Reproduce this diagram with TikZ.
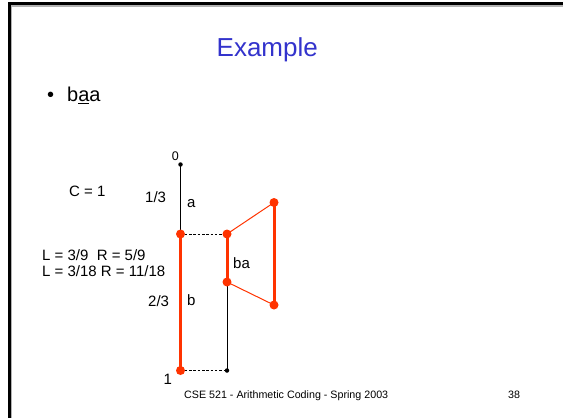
\documentclass[tikz,border=0pt]{standalone}
\usepackage{fontspec}
\setmainfont{Liberation Sans}
\definecolor{titleblue}{HTML}{3333CC}
\definecolor{ored}{HTML}{FF3300}
\begin{document}
\begin{tikzpicture}[x=1pt,y=-1pt,
  lbl/.style={inner sep=0pt,anchor=base west,font=\fontsize{15}{18}\selectfont},
  thickred/.style={ored,line width=3pt},
  thinred/.style={ored,line width=1pt},
  blk/.style={black,line width=0.9pt},
  dashblk/.style={black,line width=0.8pt,dash pattern=on 2.5pt off 1.8pt},
  rdot/.style={circle,fill=ored,inner sep=0pt,minimum size=9pt},
  bdot/.style={circle,fill=black,inner sep=0pt,minimum size=4.5pt}]
\useasboundingbox (0,0) rectangle (563,418);
% slide frame
\draw[gray!60,line width=1.5pt] (11.5,418) -- (11.5,5.8) -- (563,5.8);
\draw[black,line width=2.3pt] (9.6,418) -- (9.6,3.6) -- (563,3.6);
% title and bullet
\node[inner sep=0pt,anchor=base west,text=titleblue,font=\fontsize{26}{30}\selectfont] (title) at (216.5,56.7) {Example};
\node[inner sep=0pt,anchor=base west,font=\fontsize{20}{24}\selectfont] (bul) at (47,101.7) {•};
\node[inner sep=0pt,anchor=base west,font=\fontsize{20}{24}\selectfont] (word) at (67,101.7) {b\underline{a}a};
% points
\coordinate (p0) at (180.5,164.5);
\coordinate (pA) at (180.5,234);
\coordinate (p1) at (180.5,370.5);
\coordinate (q1) at (227,234);
\coordinate (q2) at (227,282);
\coordinate (q3) at (227,370.5);
\coordinate (r1) at (274,202.5);
\coordinate (r2) at (274,305);
% lines
\draw[blk] (p0) -- (pA);
\draw[thickred] (pA) -- (p1);
\draw[dashblk] (pA) -- (q1);
\draw[dashblk] (p1) -- (q3);
\draw[thickred] (q1) -- (q2);
\draw[blk] (q2) -- (q3);
\draw[thinred] (q1) -- (r1);
\draw[thinred] (q2) -- (r2);
\draw[thickred] (r1) -- (r2);
% dots
\node[bdot] (d0) at (p0) {};
\node[bdot] (d3) at (q3) {};
\node[rdot] (dA) at (pA) {};
\node[rdot] (d1) at (p1) {};
\node[rdot] (dq1) at (q1) {};
\node[rdot] (dq2) at (q2) {};
\node[rdot] (dr1) at (r1) {};
\node[rdot] (dr2) at (r2) {};
% labels
\node[inner sep=0pt,anchor=base west,font=\fontsize{12.5}{15}\selectfont] (l0) at (171.6,160.7) {0};
\node[lbl] (l1) at (163.5,384.8) {1};
\node[lbl] (c1) at (69,196.5) {C = 1};
\node[lbl] (t13) at (145,202.3) {1/3};
\node[lbl] (la) at (187,207.2) {a};
\node[lbl] (lr1) at (42,260) {L = 3/9 \ R = 5/9};
\node[lbl] (lr2) at (42,276.6) {L = 3/18 R = 11/18};
\node[lbl] (t23) at (148,306.5) {2/3};
\node[lbl] (lb) at (187,305.6) {b};
\node[lbl] (lba) at (233,268) {ba};
% footer
\node[inner sep=0pt,anchor=base west,font=\fontsize{10.7}{13}\selectfont] (foot) at (184,398) {CSE 521 - Arithmetic Coding - Spring 2003};
\node[inner sep=0pt,anchor=base west,font=\fontsize{10.7}{13}\selectfont] (pg) at (508,398) {38};
\end{tikzpicture}
\end{document}
